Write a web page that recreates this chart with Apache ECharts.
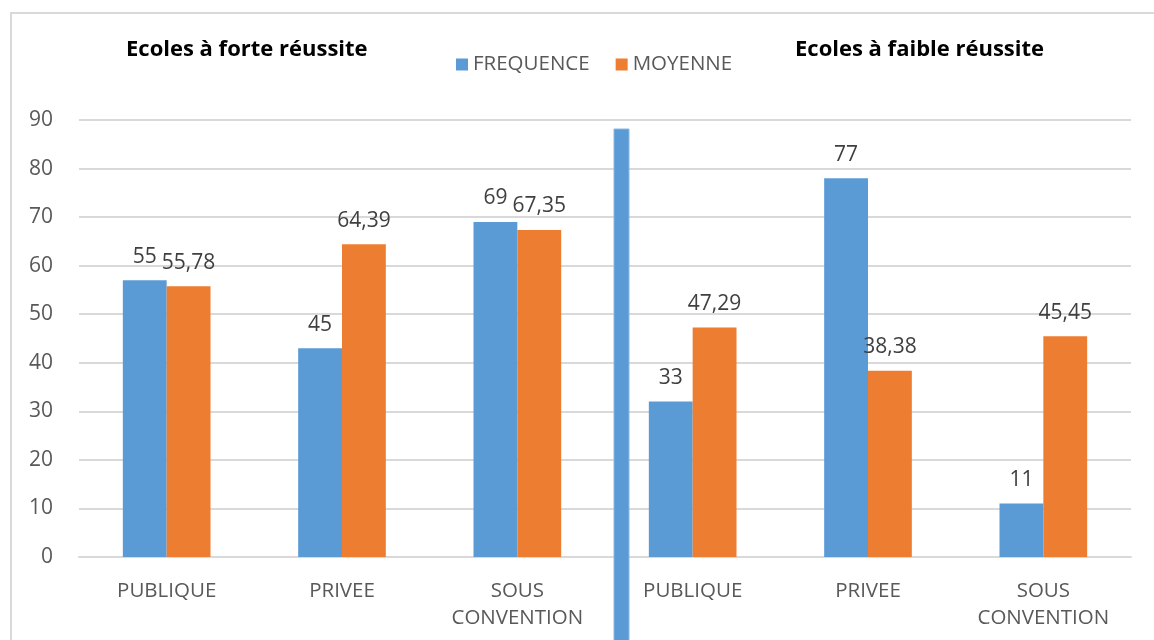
<!DOCTYPE html>
<html>
<head>
<meta charset="utf-8">
<script src="https://cdn.jsdelivr.net/npm/echarts@6/dist/echarts.min.js"></script>
<style>
html,body{margin:0;padding:0;background:#fff;}
#main{width:1154px;height:640px;}
</style>
</head>
<body>
<div id="main"></div>
<script>
// Data
const categories = ['PUBLIQUE', 'PRIVEE', 'SOUS\nCONVENTION', 'PUBLIQUE', 'PRIVEE', 'SOUS\nCONVENTION'];
const frequenceValues = [57, 43, 69, 32, 78, 11];
const frequenceLabels = ['55', '45', '69', '33', '77', '11'];
const moyenneValues = [55.78, 64.39, 67.35, 47.29, 38.38, 45.45];
const moyenneLabels = ['55,78', '64,39', '67,35', '47,29', '38,38', '45,45'];
const groupTitles = ['Ecoles à forte réussite', 'Ecoles à faible réussite'];
const seriesNames = ['FREQUENCE', 'MOYENNE'];

const FONT = '"Open Sans", "Noto Sans", sans-serif';
const chart = echarts.init(document.getElementById('main'));

const labelStyle = {
  show: true,
  position: 'top',
  distance: 13,
  fontFamily: FONT,
  fontSize: 21,
  color: '#404040'
};

chart.setOption({
  animation: false,
  backgroundColor: '#ffffff',
  title: [
    { text: groupTitles[0], left: 121, top: 34,
      textStyle: { fontFamily: FONT, fontSize: 22, fontWeight: 'bold', color: '#000' } },
    { text: groupTitles[1], left: 790, top: 34,
      textStyle: { fontFamily: FONT, fontSize: 22, fontWeight: 'bold', color: '#000' } }
  ],
  legend: {
    data: seriesNames,
    left: 451,
    top: 49,
    itemWidth: 12,
    itemHeight: 12,
    itemGap: 26,
    icon: 'rect',
    textStyle: { fontFamily: FONT, fontSize: 20.5, color: '#595959' }
  },
  grid: { left: 79, right: 23, top: 120, bottom: 83, containLabel: false },
  xAxis: {
    type: 'category',
    data: categories,
    axisTick: { show: false },
    axisLine: { lineStyle: { color: '#d9d9d9', width: 2 } },
    axisLabel: { fontFamily: FONT, fontSize: 20.5, color: '#595959', margin: 21, lineHeight: 27, interval: 0 }
  },
  yAxis: {
    type: 'value',
    min: 0, max: 90, interval: 10,
    axisLine: { show: false },
    axisTick: { show: false },
    axisLabel: { fontFamily: FONT, fontSize: 21, color: '#595959', margin: 26 },
    splitLine: { lineStyle: { color: '#d9d9d9', width: 2 } }
  },
  series: [
    {
      name: seriesNames[0], type: 'bar',
      data: frequenceValues,
      barGap: 0, barCategoryGap: '50%',
      itemStyle: { color: '#5B9BD5' },
      label: Object.assign({}, labelStyle, { formatter: p => frequenceLabels[p.dataIndex] })
    },
    {
      name: seriesNames[1], type: 'bar',
      data: moyenneValues,
      barGap: 0, barCategoryGap: '50%',
      itemStyle: { color: '#ED7D31' },
      label: Object.assign({}, labelStyle, { formatter: p => moyenneLabels[p.dataIndex] })
    }
  ],
  graphic: [
    { type: 'rect', shape: { x: 11, y: 13, width: 1300, height: 800 },
      style: { fill: 'none', stroke: '#d9d9d9', lineWidth: 2 }, silent: true, z: -1 },
    { type: 'rect', shape: { x: 614, y: 129, width: 15, height: 520 },
      style: { fill: '#5B9BD5', stroke: '#8ab8e3', lineWidth: 1 }, silent: true, z: 100 }
  ]
});
</script>
</body>
</html>
